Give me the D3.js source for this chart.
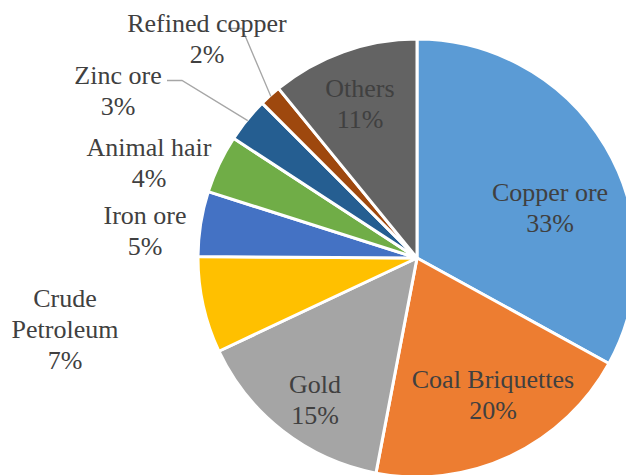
<!DOCTYPE html>
<html lang="en">
<head>
    <meta charset="UTF-8">
    <title>Export composition</title>
    <script src="https://d3js.org/d3.v7.min.js"></script>
</head>
<body style="margin:0">
    <svg width="626" height="475" style="font-family:'Liberation Serif','Times New Roman',Times"></svg>

    <script>
        // Data (percent of total), clockwise from 12 o'clock
        const categories = ["Copper ore", "Coal Briquettes", "Gold", "Crude Petroleum", "Iron ore",
                            "Animal hair", "Zinc ore", "Refined copper", "Others"];
        const shares = [33.0, 20.0, 15.0, 7.1, 4.8, 4.3, 3.3, 1.6, 10.9];
        const colors = ["#5b9bd5", "#ed7d31", "#a5a5a5", "#ffc000", "#4472c4",
                        "#70ad47", "#255e91", "#9e480e", "#636363"];
        // how each label breaks into lines
        const labelLines = {
            "Crude Petroleum": ["Crude", "Petroleum"]
        };

        const width = 626, height = 475;
        const cx = 417, cy = 258, radius = 219;
        const lineH = 31;

        // label block centres (Excel-style best fit placement)
        const labelPos = {
            "Copper ore": [550, 207],
            "Coal Briquettes": [493, 394],
            "Gold": [315, 399],
            "Crude Petroleum": [65, 329],
            "Iron ore": [145, 230],
            "Animal hair": [149, 162],
            "Zinc ore": [118, 90],
            "Refined copper": [207, 38],
            "Others": [360, 103]
        };
        // labels that need a leader line back to their slice
        const leaders = {
            "Zinc ore": { side: 167, len: 15 },
            "Refined copper": { side: 228, len: 14 }
        };

        const data = categories.map((c, i) => ({ name: c, value: shares[i], color: colors[i] }));

        const svg = d3.select("svg");
        const g = svg.append("g").attr("transform", `translate(${cx},${cy})`);

        const pie = d3.pie().sort(null).value(d => d.value);
        const arc = d3.arc().innerRadius(0).outerRadius(radius);
        const edgeArc = d3.arc().innerRadius(radius - 1).outerRadius(radius - 1);

        const arcs = pie(data);

        g.selectAll("path.slice")
            .data(arcs)
            .enter().append("path")
            .attr("class", "slice")
            .attr("d", arc)
            .attr("fill", d => d.data.color)
            .attr("stroke", "#fff")
            .attr("stroke-width", 3)
            .attr("stroke-linejoin", "round");

        // leader lines
        arcs.filter(d => leaders[d.data.name]).forEach(d => {
            const L = leaders[d.data.name];
            const [px, py] = labelPos[d.data.name];
            const ly = py - lineH / 2 + 6;   // aligned with the percentage line
            const [ex, ey] = edgeArc.centroid(d);
            svg.append("polyline")
                .attr("fill", "none")
                .attr("stroke", "#a6a6a6")
                .attr("stroke-width", 1.3)
                .attr("points", [
                    [L.side, ly],
                    [L.side + L.len, ly],
                    [ex + cx, ey + cy]
                ].map(p => p.join(",")).join(" "));
        });

        // labels: one text element per line
        const labelRows = [];
        arcs.forEach(d => {
            const name = d.data.name;
            const lines = (labelLines[name] || [name]).concat([Math.round(d.data.value) + "%"]);
            const [px, py] = labelPos[name];
            const y0 = py - (lines.length - 1) * lineH / 2;
            lines.forEach((s, i) => labelRows.push({ text: s, x: px, y: y0 + i * lineH + 9 }));
        });

        svg.selectAll("text.lbl")
            .data(labelRows)
            .enter().append("text")
            .attr("class", "lbl")
            .attr("x", d => d.x)
            .attr("y", d => d.y)
            .style("font-family", "'Liberation Serif', 'Times New Roman', Times")
            .style("font-size", "26px")
            .attr("fill", "#404040")
            .attr("text-anchor", "middle")
            .text(d => d.text);
    </script>
</body>
</html>
